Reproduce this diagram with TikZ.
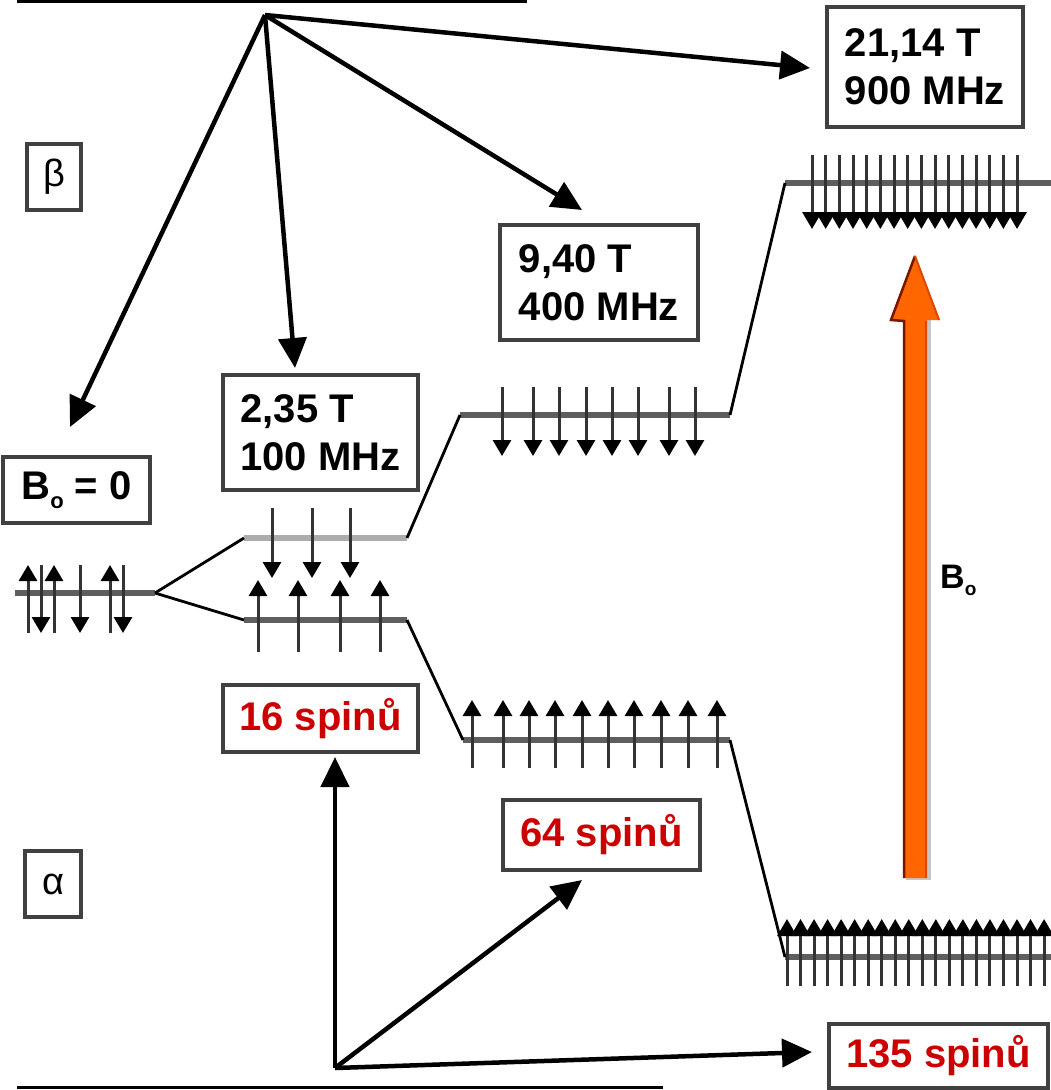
\documentclass[tikz,border=0pt]{standalone}
\usepackage{fontspec}
\setmainfont{Liberation Sans}
\usetikzlibrary{arrows.meta}
\definecolor{boxgray}{HTML}{404040}
\definecolor{spinred}{HTML}{CC0000}
\definecolor{levgray}{HTML}{5E5E5E}
\definecolor{spingray}{HTML}{333333}
\definecolor{borange}{HTML}{FF6600}
\definecolor{bdark}{HTML}{7A1500}
\definecolor{bmid}{HTML}{D94A00}
\begin{document}
\begin{tikzpicture}[x=1pt,y=-1pt,
  lbl/.style={draw=boxgray, line width=3.5pt, fill=white, align=left, inner sep=0pt,
    font=\fontsize{40}{48}\selectfont\bfseries},
  redlbl/.style={lbl, text=spinred},
  greek/.style={draw=boxgray, line width=3.5pt, fill=white, inner sep=0pt,
    font=\fontsize{38}{40}\selectfont},
  bigarrow/.style={line width=4.5pt, -{Triangle[length=30pt,width=28pt]}},
  level/.style={levgray, line width=6pt},
  link/.style={black, line width=2.8pt},
  spinarrow/.style={spingray, line width=3pt, -{Triangle[length=16pt,width=18pt,color=black]}},
  densespin/.style={spingray, line width=3pt, -{Triangle[length=17pt,width=19pt,color=black]}}
]
\useasboundingbox (0,0) rectangle (1051,1090);

% rules
\draw[line width=3pt] (17,1.5) -- (527,1.5);
\draw[line width=3pt] (17,1087) -- (663,1087);

% boxes
\node[lbl, minimum width=196pt, minimum height=120pt] (b21) at (925,67) {21,14 T\\900 MHz};
\node[lbl, minimum width=198pt, minimum height=115pt] (b94) at (599,282.5) {9,40 T\\400 MHz};
\node[lbl, minimum width=195pt, minimum height=115pt] (b235) at (320.5,432.5) {2,35 T\\100 MHz};
\node[lbl, minimum width=147pt, minimum height=66pt] (bB0) at (76.5,490)
  {B\raisebox{-9pt}{\fontsize{22}{22}\selectfont o} = 0};
\node[greek, minimum width=54pt, minimum height=66pt] (beta) at (54,177) {β};
\node[greek, minimum width=56pt, minimum height=66pt] (alpha) at (53,884) {α};
\node[redlbl, minimum width=195pt, minimum height=67pt] (b16) at (320.5,718.5) {16 spinů};
\node[redlbl, minimum width=197pt, minimum height=70pt] (b64) at (601.5,835) {64 spinů};
\node[redlbl, minimum width=219pt, minimum height=64pt] (b135) at (938.5,1056) {135 spinů};

% top fan of arrows
\coordinate (top) at (265,15);
\coordinate (tB0) at (70,427);
\coordinate (t235) at (295,368);
\coordinate (t94) at (582,210);
\coordinate (t21) at (810,68);
\draw[bigarrow] (top) -- (tB0);
\draw[bigarrow] (top) -- (t235);
\draw[bigarrow] (top) -- (t94);
\draw[bigarrow] (top) -- (t21);

% bottom fan of arrows
\coordinate (bot) at (335,1068);
\coordinate (t16) at (335,757);
\coordinate (t64) at (582,880);
\coordinate (t135) at (812,1052);
\draw[bigarrow] (bot) -- (t16);
\draw[bigarrow] (bot) -- (t64);
\draw[bigarrow] (bot) -- (t135);

% level coordinates
\coordinate (L0a) at (15,593);   \coordinate (L0b) at (155,593);
\coordinate (L1ua) at (244,538); \coordinate (L1ub) at (407,538);
\coordinate (L1la) at (244,620); \coordinate (L1lb) at (407,620);
\coordinate (L2ua) at (460,415); \coordinate (L2ub) at (730,415);
\coordinate (L2la) at (463,740); \coordinate (L2lb) at (730,740);
\coordinate (L3ua) at (785,183); \coordinate (L3ub) at (1051,183);
\coordinate (L3la) at (785,957); \coordinate (L3lb) at (1051,957);

% levels
\draw[level] (L0a) -- (L0b);
\draw[level, draw=gray!65] (L1ua) -- (L1ub);
\draw[level] (L1la) -- (L1lb);
\draw[level] (L2ua) -- (L2ub);
\draw[level] (L2la) -- (L2lb);
\draw[level] (L3ua) -- (L3ub);
\draw[level] (L3la) -- (L3lb);

% links
\draw[link] (L0b) -- (L1ua);
\draw[link] (L0b) -- (L1la);
\draw[link] (L1ub) -- (L2ua);
\draw[link] (L2ub) -- (L3ua);
\draw[link] (L1lb) -- (L2la);
\draw[link] (L2lb) -- (L3la);

% spins B0 = 0
\foreach \x in {28,54,110} \draw[spinarrow] (\x,633) -- (\x,565);
\foreach \x in {41,80,123} \draw[spinarrow] (\x,565) -- (\x,633);
% spins 100 MHz
\foreach \x in {272,312,350} \draw[spinarrow] (\x,508) -- (\x,578);
\foreach \x in {258,298,340,380} \draw[spinarrow] (\x,652) -- (\x,580);
% spins 400 MHz
\foreach \x in {502,533,559,586,612,638,669,695} \draw[spinarrow] (\x,387) -- (\x,456);
\foreach \x in {472,503,529,555,582,608,634,661,688,717} \draw[spinarrow] (\x,768) -- (\x,700);
% spins 900 MHz
\foreach \i in {0,...,15} \draw[densespin] ({812+\i*13.67},155) -- ({812+\i*13.67},229);
\foreach \i in {0,...,19} \draw[densespin] ({787+\i*13.53},986) -- ({787+\i*13.53},919);

% orange B0 arrow
\fill[gray!45] (906,880) -- (931,880) -- (931,320) -- (906,320) -- cycle;
\fill[borange] (903,878) -- (927,878) -- (927,320) -- (940,320) -- (915,255) -- (890,320) -- (903,320) -- cycle;
\draw[bdark, line width=2.5pt] (904,878) -- (904,321) -- (891,320) -- (915,256);
\draw[bmid, line width=2.5pt] (926,878) -- (926,321);
\draw[bmid, line width=2pt] (915,256) -- (939,320);
\node[font=\fontsize{34}{36}\selectfont\bfseries, inner sep=0pt, anchor=west] (Blab) at (940,580)
  {B\raisebox{-7pt}{\fontsize{19}{19}\selectfont o}};
\end{tikzpicture}
\end{document}
